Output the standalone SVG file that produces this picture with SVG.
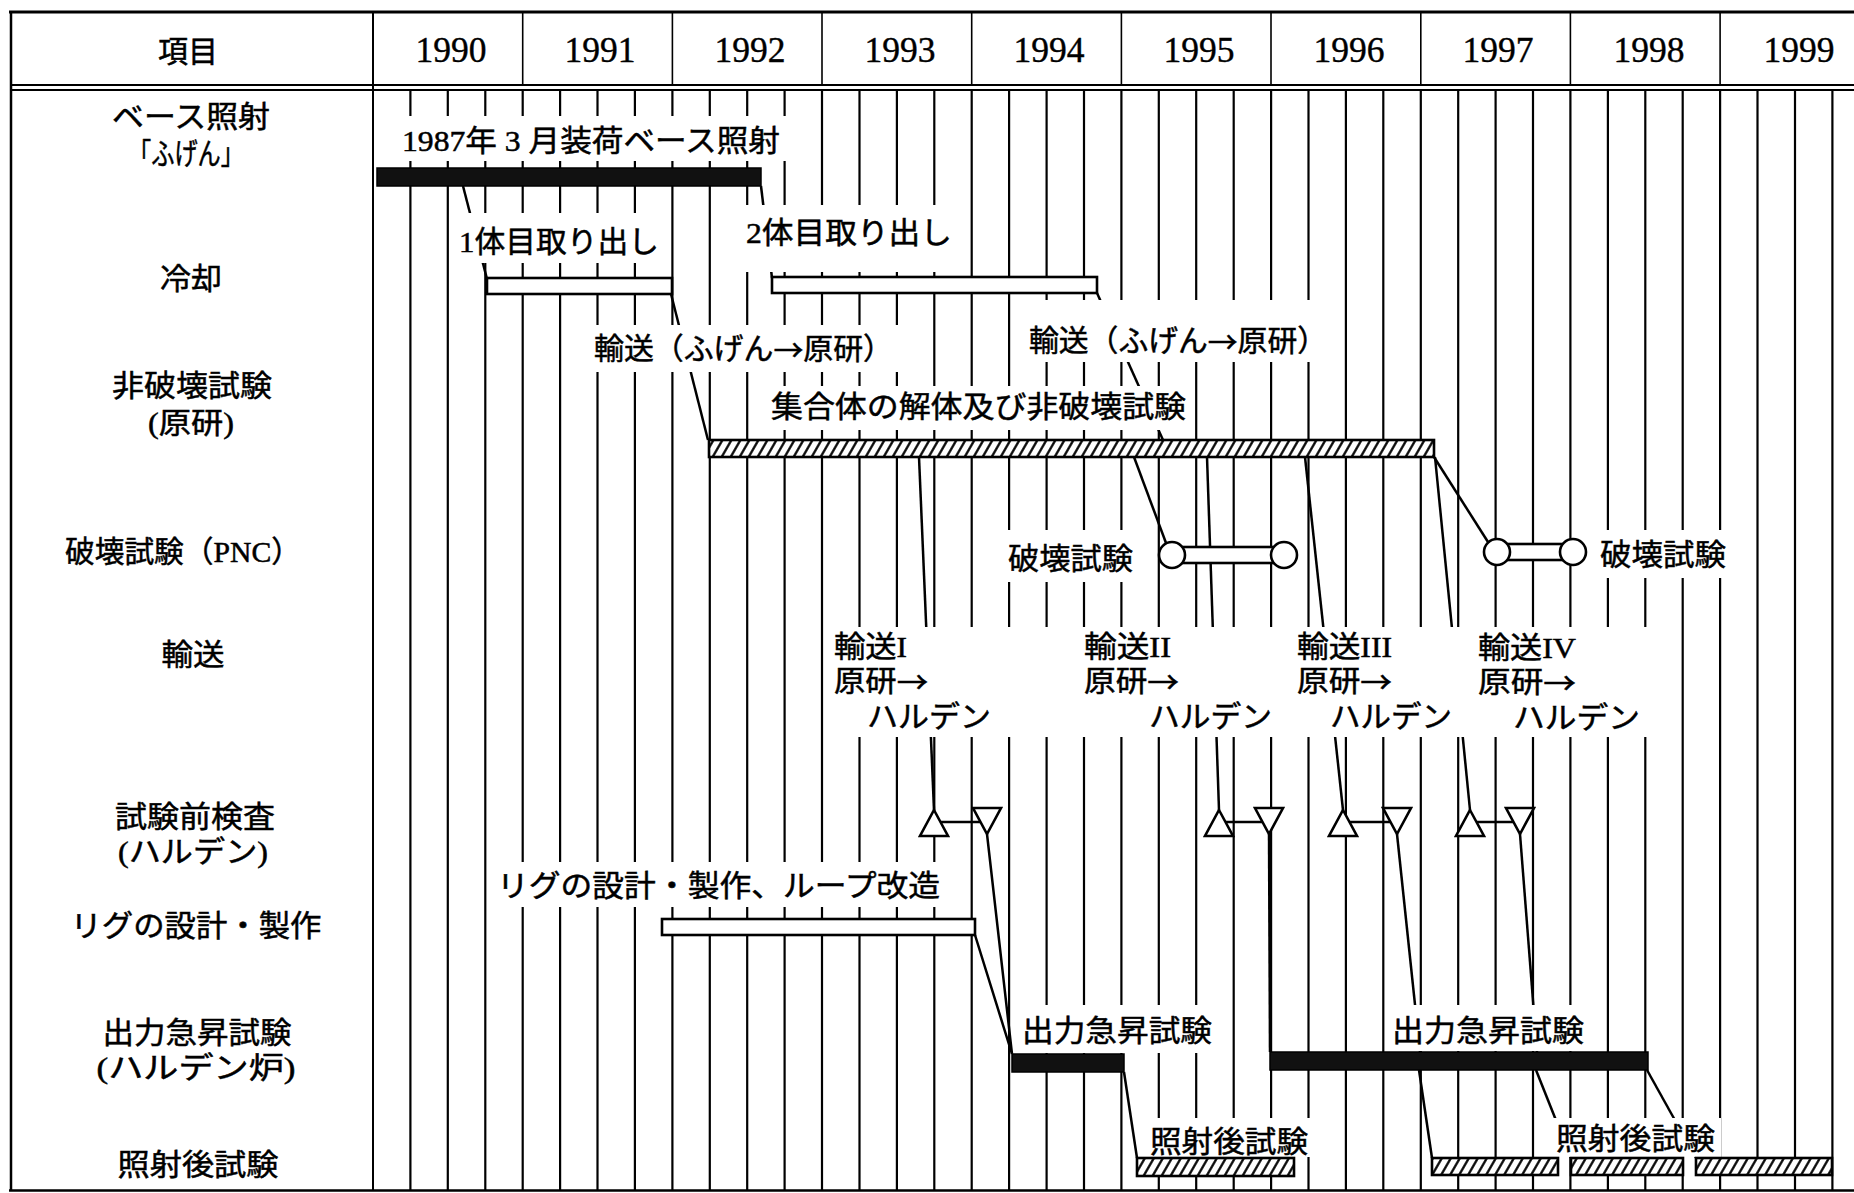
<svg xmlns="http://www.w3.org/2000/svg" width="1854" height="1193" viewBox="0 0 1854 1193">
<style>
.t{font-family:"Liberation Serif","Noto Sans CJK JP",serif;font-size:30px;fill:#000;stroke:#000;stroke-width:0.5;dominant-baseline:central}
.m{text-anchor:middle}
.ar{font-family:"Noto Sans CJK JP",sans-serif}
.yr{font-family:"Liberation Serif","Noto Sans CJK JP",serif;font-size:36px;fill:#000;stroke:#000;stroke-width:0.4;dominant-baseline:central;text-anchor:middle}
.grid{stroke:#000;stroke-width:2.2;fill:none}
.frame{stroke:#000;fill:none}
.con{stroke:#000;stroke-width:2.5;fill:none}
.band{fill:#fff}
.wbar{fill:#fff;stroke:#000;stroke-width:2.6}
.bbar{fill:#111;stroke:#000;stroke-width:1.5}
.hbar{fill:url(#hatch);stroke:#000;stroke-width:2.6}
</style>
<defs>
<pattern id="hatch" patternUnits="userSpaceOnUse" width="9" height="20" patternTransform="skewX(-30)">
<rect width="9" height="20" fill="#fff"/>
<line x1="4.5" y1="0" x2="4.5" y2="20" stroke="#000" stroke-width="2.6"/>
</pattern>
</defs>
<rect width="1854" height="1193" fill="#fff"/>

<g id="frame">
<path class="frame" stroke-width="3" d="M9 12H1854"/>
<path class="frame" stroke-width="2" d="M11 85H1854M11 90H1854"/>
<path class="frame" stroke-width="2.5" d="M11 11V1191M9 1190.5H1854"/>
<path class="frame" stroke-width="2" d="M373 12V1191"/>
<path class="frame" stroke-width="1.6" d="M522.7 12V85M672.4 12V85M822 12V85M971.7 12V85M1121.4 12V85M1271 12V85M1420.8 12V85M1570.4 12V85M1720.1 12V85"/>
</g>

<g id="header">
<text class="t m" x="188" y="51" textLength="60" lengthAdjust="spacingAndGlyphs">項目</text>
<text class="yr" x="451" y="50" textLength="71" lengthAdjust="spacingAndGlyphs">1990</text>
<text class="yr" x="600" y="50" textLength="71" lengthAdjust="spacingAndGlyphs">1991</text>
<text class="yr" x="750" y="50" textLength="71" lengthAdjust="spacingAndGlyphs">1992</text>
<text class="yr" x="900" y="50" textLength="71" lengthAdjust="spacingAndGlyphs">1993</text>
<text class="yr" x="1049" y="50" textLength="71" lengthAdjust="spacingAndGlyphs">1994</text>
<text class="yr" x="1199" y="50" textLength="71" lengthAdjust="spacingAndGlyphs">1995</text>
<text class="yr" x="1349" y="50" textLength="71" lengthAdjust="spacingAndGlyphs">1996</text>
<text class="yr" x="1498" y="50" textLength="71" lengthAdjust="spacingAndGlyphs">1997</text>
<text class="yr" x="1649" y="50" textLength="71" lengthAdjust="spacingAndGlyphs">1998</text>
<text class="yr" x="1799" y="50" textLength="71" lengthAdjust="spacingAndGlyphs">1999</text>
</g>

<g id="row-labels">
<text class="t m" x="191" y="116" textLength="158" lengthAdjust="spacingAndGlyphs">ベース照射</text>
<text class="t m" x="186" y="153" textLength="116" lengthAdjust="spacingAndGlyphs">「ふげん」</text>
<text class="t m" x="191" y="278" textLength="62" lengthAdjust="spacingAndGlyphs">冷却</text>
<text class="t m" x="192" y="385" textLength="160" lengthAdjust="spacingAndGlyphs">非破壊試験</text>
<text class="t m" x="191" y="422" textLength="86" lengthAdjust="spacingAndGlyphs">(原研)</text>
<text class="t m" x="183" y="551" textLength="236" lengthAdjust="spacingAndGlyphs">破壊試験（PNC）</text>
<text class="t m" x="193" y="654" textLength="63" lengthAdjust="spacingAndGlyphs">輸送</text>
<text class="t m" x="195" y="816" textLength="160" lengthAdjust="spacingAndGlyphs">試験前検査</text>
<text class="t m" x="193" y="851" textLength="150" lengthAdjust="spacingAndGlyphs">(ハルデン)</text>
<text class="t m" x="196" y="925" textLength="251" lengthAdjust="spacingAndGlyphs">リグの設計・製作</text>
<text class="t m" x="197" y="1032" textLength="189" lengthAdjust="spacingAndGlyphs">出力急昇試験</text>
<text class="t m" x="196" y="1067" textLength="199" lengthAdjust="spacingAndGlyphs">(ハルデン炉)</text>
<text class="t m" x="198" y="1164" textLength="161" lengthAdjust="spacingAndGlyphs">照射後試験</text>
</g>

<g id="grid">
<path class="grid" d="M410.4 91V1190M447.8 91V1190M485.3 91V1190M522.7 91V1190M560.1 91V1190M597.5 91V1190M634.9 91V1190M672.4 91V1190M709.8 91V1190M747.2 91V1190M784.6 91V1190M822 91V1190M859.5 91V1190M896.9 91V1190M934.3 91V1190M971.7 91V1190M1009.1 91V1190M1046.6 91V1190M1084 91V1190M1121.4 91V1190M1158.8 91V1190M1196.2 91V1190M1233.7 91V1190M1271.1 91V1190M1308.5 91V1190M1345.9 91V1190M1383.3 91V1190M1420.8 91V1190M1458.2 91V1190M1495.6 91V1190M1533 91V1190M1570.4 91V1190M1607.9 91V1190M1645.3 91V1190M1682.7 91V1190M1720.1 91V1190M1757.5 91V1190M1795 91V1190M1832.4 91V1190"/>
</g>

<g id="connectors">
<path class="con" d="M463 186L487 279"/>
<path class="con" d="M761 186L772 278"/>
<path class="con" d="M671 294L708 440"/>
<path class="con" d="M1097 293L1163 440"/>
<path class="con" d="M1134 457L1166 543"/>
<path class="con" d="M1434 457L1488 542"/>
<path class="con" d="M919 457L934 810"/>
<path class="con" d="M1207 457L1219 810"/>
<path class="con" d="M1305 457L1343 810"/>
<path class="con" d="M1435 457L1470 810"/>
<path class="con" d="M941 822H981M1226 822H1262M1350 822H1390M1477 822H1513"/>
<path class="con" d="M987 834L1012 1054M975 935L1012 1054"/>
<path class="con" d="M1269 834L1270 1052"/>
<path class="con" d="M1397 834L1420 1052"/>
<path class="con" d="M1520 834L1537 1052"/>
<path class="con" d="M1124 1072L1137 1158"/>
<path class="con" d="M1419 1070L1432 1158"/>
<path class="con" d="M1536 1070L1571 1158"/>
<path class="con" d="M1647 1070L1696 1158"/>
</g>

<g id="text-bands">
<rect class="band" x="395" y="116" width="391" height="45"/>
<rect class="band" x="453" y="213" width="212" height="50"/>
<rect class="band" x="740" y="205" width="217" height="67"/>
<rect class="band" x="588" y="325" width="311" height="47"/>
<rect class="band" x="1023" y="300" width="310" height="62"/>
<rect class="band" x="765" y="386" width="427" height="44"/>
<rect class="band" x="1000" y="530" width="139" height="52"/>
<rect class="band" x="1594" y="530" width="138" height="48"/>
<rect class="band" x="828" y="627" width="832" height="110"/>
<rect class="band" x="491" y="862" width="455" height="45"/>
<rect class="band" x="1017" y="1005" width="201" height="48"/>
<rect class="band" x="1386" y="1005" width="204" height="46"/>
<rect class="band" x="1144" y="1118" width="170" height="39"/>
<rect class="band" x="1553" y="1118" width="168" height="39"/>
</g>

<g id="base-irradiation">
<rect class="bbar" x="377" y="168" width="384" height="18"/>
<text class="t" x="402" y="140" textLength="378" lengthAdjust="spacingAndGlyphs">1987年 3 月装荷ベース照射</text>
</g>

<g id="cooling">
<rect class="wbar" x="487" y="278" width="185" height="16"/>
<rect class="wbar" x="772" y="277" width="325" height="16"/>
<text class="t" x="459" y="241" textLength="200" lengthAdjust="spacingAndGlyphs">1体目取り出し</text>
<text class="t" x="746" y="232" textLength="206" lengthAdjust="spacingAndGlyphs">2体目取り出し</text>
<text class="t" x="594" y="348" textLength="299" lengthAdjust="spacingAndGlyphs">輸送（ふげん<tspan class="ar">→</tspan>原研）</text>
<text class="t" x="1029" y="340" textLength="298" lengthAdjust="spacingAndGlyphs">輸送（ふげん<tspan class="ar">→</tspan>原研）</text>
</g>

<g id="ndt">
<rect class="hbar" x="709" y="440" width="725" height="17"/>
<text class="t" x="771" y="406" textLength="415" lengthAdjust="spacingAndGlyphs">集合体の解体及び非破壊試験</text>
</g>

<g id="destructive-test">
<rect class="wbar" x="1180" y="547" width="96" height="16"/>
<circle class="wbar" cx="1172" cy="555" r="13"/>
<circle class="wbar" cx="1284" cy="555" r="13"/>
<rect class="wbar" x="1505" y="544" width="60" height="16"/>
<circle class="wbar" cx="1497" cy="552" r="13"/>
<circle class="wbar" cx="1573" cy="552" r="13"/>
<text class="t" x="1008" y="558" textLength="125" lengthAdjust="spacingAndGlyphs">破壊試験</text>
<text class="t" x="1600" y="554" textLength="126" lengthAdjust="spacingAndGlyphs">破壊試験</text>
</g>

<g id="transport">
<text class="t" x="834" y="646" textLength="73" lengthAdjust="spacingAndGlyphs">輸送I</text>
<text class="t" x="834" y="680" textLength="94" lengthAdjust="spacingAndGlyphs">原研<tspan class="ar">→</tspan></text>
<text class="t" x="867" y="716" textLength="124" lengthAdjust="spacingAndGlyphs">ハルデン</text>
<text class="t" x="1084" y="646" textLength="87" lengthAdjust="spacingAndGlyphs">輸送II</text>
<text class="t" x="1084" y="680" textLength="95" lengthAdjust="spacingAndGlyphs">原研<tspan class="ar">→</tspan></text>
<text class="t" x="1149" y="716" textLength="123" lengthAdjust="spacingAndGlyphs">ハルデン</text>
<text class="t" x="1297" y="646" textLength="95" lengthAdjust="spacingAndGlyphs">輸送III</text>
<text class="t" x="1297" y="680" textLength="95" lengthAdjust="spacingAndGlyphs">原研<tspan class="ar">→</tspan></text>
<text class="t" x="1330" y="716" textLength="122" lengthAdjust="spacingAndGlyphs">ハルデン</text>
<text class="t" x="1478" y="647" textLength="98" lengthAdjust="spacingAndGlyphs">輸送IV</text>
<text class="t" x="1478" y="681" textLength="98" lengthAdjust="spacingAndGlyphs">原研<tspan class="ar">→</tspan></text>
<text class="t" x="1513" y="717" textLength="127" lengthAdjust="spacingAndGlyphs">ハルデン</text>
</g>

<g id="pre-inspection">
<path class="wbar" d="M934 810L948 836H920Z"/>
<path class="wbar" d="M973 808H1001L987 834Z"/>
<path class="wbar" d="M1219 810L1233 836H1205Z"/>
<path class="wbar" d="M1255 808H1283L1269 834Z"/>
<path class="wbar" d="M1343 810L1357 836H1329Z"/>
<path class="wbar" d="M1383 808H1411L1397 834Z"/>
<path class="wbar" d="M1470 810L1484 836H1456Z"/>
<path class="wbar" d="M1506 808H1534L1520 834Z"/>
</g>

<g id="rig">
<rect class="wbar" x="662" y="919" width="313" height="16"/>
<text class="t" x="497" y="885" textLength="443" lengthAdjust="spacingAndGlyphs">リグの設計・製作、ループ改造</text>
</g>

<g id="power-ramp">
<rect class="bbar" x="1012" y="1054" width="112" height="18"/>
<rect class="bbar" x="1270" y="1052" width="378" height="18"/>
<text class="t" x="1022" y="1030" textLength="190" lengthAdjust="spacingAndGlyphs">出力急昇試験</text>
<text class="t" x="1392" y="1030" textLength="192" lengthAdjust="spacingAndGlyphs">出力急昇試験</text>
</g>

<g id="pie">
<rect class="hbar" x="1137" y="1158" width="157" height="18"/>
<rect class="hbar" x="1432" y="1158" width="126" height="17"/>
<rect class="hbar" x="1571" y="1158" width="112" height="17"/>
<rect class="hbar" x="1696" y="1158" width="136" height="17"/>
<text class="t" x="1150" y="1141" textLength="158" lengthAdjust="spacingAndGlyphs">照射後試験</text>
<text class="t" x="1556" y="1138" textLength="159" lengthAdjust="spacingAndGlyphs">照射後試験</text>
</g>
</svg>
